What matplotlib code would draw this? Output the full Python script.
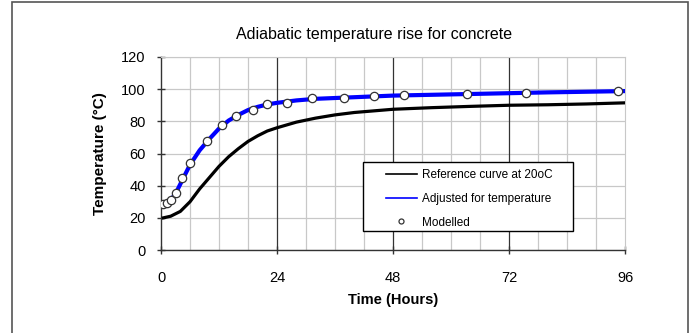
import matplotlib
matplotlib.use('Agg')
import matplotlib.pyplot as plt
from matplotlib.patches import Rectangle

plt.rcParams['font.family'] = ['Liberation Sans', 'DejaVu Sans']

# reference curve at 20 C
ref_t = [0.5, 2, 4, 6, 8, 10, 12, 14, 16, 18, 20, 22, 24, 28, 32, 36, 40, 48, 56, 64, 72, 80, 88, 96]
ref_T = [20, 21, 24, 30, 38, 45, 52, 58, 63, 67.5, 71, 74, 76, 79.5, 82, 84, 85.5, 87.5, 88.5, 89.3, 90, 90.3, 90.8, 91.5]

# adjusted for temperature
adj_t = [0.5, 1, 2, 3, 4, 5, 6, 8, 10, 12, 14, 16, 18, 20, 22, 24, 28, 32, 40, 48, 56, 64, 72, 80, 88, 96]
adj_T = [28, 29, 31, 35, 41, 47, 53, 62, 69, 75.5, 80.5, 84, 87, 89, 90.5, 91.5, 93, 94, 95, 96, 96.5, 97, 97.5, 98, 98.4, 98.8]

# modelled points
mod_t = [0.5, 1.2, 2, 3.1, 4.4, 6, 9.5, 12.7, 15.5, 19, 21.9, 26, 31.3, 37.9, 44.1, 50.3, 63.3, 75.6, 94.6]
mod_T = [28.4, 29.5, 31, 35.6, 44.6, 54, 68, 77.7, 83.5, 87, 90.6, 91.6, 94.3, 94.7, 95.6, 96.2, 96.8, 97.6, 98.7]

fig = plt.figure(figsize=(6.94, 3.33), dpi=100)
fig.patches.append(Rectangle((12/694, -0.05), (688-12)/694, 1.05 - 2/333, transform=fig.transFigure,
                             fill=False, edgecolor='#555555', linewidth=1.2))
ax = fig.add_axes([161/694, 1-250/333, 464/694, 193/333])

ax.set_xlim(0, 96)
ax.set_ylim(0, 120)
ax.set_xticks([0, 24, 48, 72, 96])
ax.set_xticks(range(0, 97, 6), minor=True)
ax.set_yticks(range(0, 121, 20))
ax.grid(which='minor', axis='x', color='#c8c8c8', linewidth=0.9)
ax.grid(which='major', axis='y', color='#c8c8c8', linewidth=0.9)
for x in [24, 48, 72]:
    ax.axvline(x, color='#333333', linewidth=0.9, zorder=1)
ax.set_axisbelow(True)

ax.plot(ref_t, ref_T, color='black', linewidth=2.3, label='Reference curve at 20oC', zorder=3)
ax.plot(adj_t, adj_T, color='#0000ff', linewidth=3.0, label='Adjusted for temperature', zorder=4)
ax.plot(mod_t, mod_T, linestyle='none', marker='o', markersize=6, markerfacecolor='white',
        markeredgecolor='#333333', markeredgewidth=0.9, label='Modelled', zorder=5)

for s in ['top', 'right']:
    ax.spines[s].set_color('#c8c8c8')
for s in ['left', 'bottom']:
    ax.spines[s].set_color('#333333')
    ax.spines[s].set_linewidth(1.0)
ax.tick_params(which='major', direction='inout', length=6, width=1, color='#333333', labelsize=10.5, pad=8)
ax.tick_params(axis='x', which='major', pad=12)
ax.tick_params(which='minor', length=0)

fig.text(374/694, 1-35/333, 'Adiabatic temperature rise for concrete', fontsize=11.5, ha='center', va='center')
ax.set_xlabel('Time (Hours)', fontsize=10.5, fontweight='bold', labelpad=6)
ax.set_ylabel('Temperature (\u00b0C)', fontsize=11, fontweight='bold', labelpad=10)

# legend box drawn separately
ax.add_patch(Rectangle((0.435, 0.098), 0.453, 0.358, transform=ax.transAxes, facecolor='white',
                       edgecolor='black', linewidth=1.0, zorder=6))
leg = ax.legend(loc='upper left', bbox_to_anchor=(0.485, 0.42), fontsize=8.5, frameon=False,
                borderpad=0, borderaxespad=0, handlelength=2.6, handletextpad=0.45,
                labelspacing=1.0, markerscale=0.6)
leg.set_zorder(7)
for line in leg.get_lines():
    line.set_linewidth(1.2)

fig.savefig('out.png', dpi=100)
